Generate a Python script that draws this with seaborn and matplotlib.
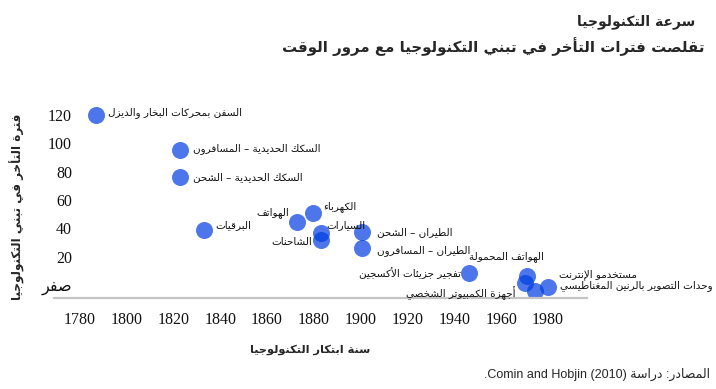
"""Technology adoption lags scatter chart (Arabic labels)."""

import matplotlib

matplotlib.use("Agg")

import matplotlib.pyplot as plt
import pandas as pd
import seaborn as sns

# ---- data ---------------------------------------------------------------
technologies = [
    "السفن بمحركات البخار والديزل",
    "السكك الحديدية – المسافرون",
    "السكك الحديدية – الشحن",
    "البرقيات",
    "الهواتف",
    "الكهرباء",
    "السيارات",
    "الشاحنات",
    "الطيران – الشحن",
    "الطيران – المسافرون",
    "تفجير جزيئات الأكسجين",
    "الهواتف المحمولة",
    "مستخدمو الإنترنت",
    "أجهزة الكمبيوتر الشخصي",
    "وحدات التصوير بالرنين المغناطيسي",
]
invention_year = [1787, 1823, 1823, 1833, 1873, 1879.5, 1883, 1883,
                  1900.5, 1900.5, 1946.5, 1971, 1970, 1974.5, 1980]
adoption_lag = [120, 95, 76, 39, 44.5, 51, 37, 32,
                37.5, 26, 8.5, 6.5, 1.5, -4, -1.5]

x_ticks = [1780, 1800, 1820, 1840, 1860, 1880, 1900, 1920, 1940, 1960, 1980]
y_ticks = [0, 20, 40, 60, 80, 100, 120]
y_tick_labels = ["صفر", "20", "40", "60", "80", "100", "120"]

title = "سرعة التكنولوجيا"
subtitle = "تقلصت فترات التأخر في تبني التكنولوجيا مع مرور الوقت"
x_label = "سنة ابتكار التكنولوجيا"
y_label = "فترة التأخر في تبني التكنولوجيا"
source_ar = "المصادر: دراسة"
source_latin = ".Comin and Hobjin (2010) "

# label placement: (dx, dy) in pixels from the point, horizontal alignment
label_layout = [
    (12, 2, "left"), (13, 2, "left"), (13, 0, "left"), (12, 5, "left"),
    (-8, 9, "right"), (10, 6, "left"), (6, 8, "left"), (-9, -2, "right"),
    (15, 0, "left"), (15, -2, "left"), (-8, 0, "right"), (17, 19, "right"),
    (34, 8, "left"), (-20, -2, "right"), (12, 2, "left"),
]

# ---- minimal Arabic shaping (matplotlib has no complex text layout) ----
_FORM_COUNTS = (
    [("\u0621", 1), ("\u0622", 2), ("\u0623", 2), ("\u0624", 2), ("\u0625", 2),
     ("\u0626", 4), ("\u0627", 2), ("\u0628", 4), ("\u0629", 2), ("\u062A", 4),
     ("\u062B", 4), ("\u062C", 4), ("\u062D", 4), ("\u062E", 4), ("\u062F", 2),
     ("\u0630", 2), ("\u0631", 2), ("\u0632", 2), ("\u0633", 4), ("\u0634", 4),
     ("\u0635", 4), ("\u0636", 4), ("\u0637", 4), ("\u0638", 4), ("\u0639", 4),
     ("\u063A", 4), ("\u0641", 4), ("\u0642", 4), ("\u0643", 4), ("\u0644", 4),
     ("\u0645", 4), ("\u0646", 4), ("\u0647", 4), ("\u0648", 2), ("\u0649", 2),
     ("\u064A", 4)]
)
FORMS = {}
_code = 0xFE80
for _ch, _n in _FORM_COUNTS:
    FORMS[_ch] = (_code, _n)
    _code += _n
LAM_ALEF = {"\u0622": 0xFEF5, "\u0623": 0xFEF7, "\u0625": 0xFEF9, "\u0627": 0xFEFB}


def arabic_visual(text):
    """Shape Arabic letters into presentation forms and reverse for LTR drawing."""
    if not any(ch in FORMS for ch in text):
        return text
    out = []
    i = 0
    while i < len(text):
        ch = text[i]
        prev = text[i - 1] if i > 0 else ""
        joins_prev = prev in FORMS and FORMS[prev][1] == 4
        if ch == "\u0644" and i + 1 < len(text) and text[i + 1] in LAM_ALEF:
            out.append(chr(LAM_ALEF[text[i + 1]] + (1 if joins_prev else 0)))
            i += 2
            continue
        if ch not in FORMS:
            out.append(ch)
            i += 1
            continue
        base, n = FORMS[ch]
        joins_prev = joins_prev and n >= 2
        nxt = text[i + 1] if i + 1 < len(text) else ""
        joins_next = n == 4 and nxt in FORMS and FORMS[nxt][1] >= 2
        if joins_prev and joins_next:
            form = 3
        elif joins_next:
            form = 2
        elif joins_prev:
            form = 1
        else:
            form = 0
        out.append(chr(base + form))
        i += 1
    return "".join(out)[::-1]


# ---- plot ---------------------------------------------------------------
sns.set_theme(style="white")
plt.rcParams["font.family"] = ["DejaVu Sans"]

df = pd.DataFrame({"year": invention_year, "lag": adoption_lag, "tech": technologies})

fig = plt.figure(figsize=(7.16, 3.89), dpi=100)
ax = fig.add_axes([54 / 716, 1 - 298 / 389, (587 - 54) / 716, (298 - 100) / 389])

sns.scatterplot(data=df, x="year", y="lag", ax=ax, s=150, color="#003ce1",
                alpha=0.7, linewidth=0, legend=False)

for (year, lag, name), (dx, dy, ha) in zip(zip(invention_year, adoption_lag, technologies),
                                           label_layout):
    ax.annotate(arabic_visual(name), (year, lag), xytext=(dx, dy),
                textcoords="offset pixels", ha=ha, va="center",
                fontsize=7.5, color="#111111", annotation_clip=False)

ax.set_xlim(1769, 1996.7)
ax.set_ylim(-9.2, 130.6)
ax.set_xticks(x_ticks)
ax.set_xticklabels([str(t) for t in x_ticks])
ax.set_yticks(y_ticks)
ax.set_yticklabels([arabic_visual(t) for t in y_tick_labels])
for lbl in ax.get_xticklabels() + ax.get_yticklabels():
    lbl.set_family(["Liberation Serif", "DejaVu Sans"])
    lbl.set_fontsize(11.5)
    lbl.set_color("#111111")
ax.tick_params(axis="x", length=0, pad=10)
ax.tick_params(axis="y", length=0, pad=-13)

for side in ("top", "right", "left"):
    ax.spines[side].set_visible(False)
ax.spines["bottom"].set_color("#c4c4c4")
ax.spines["bottom"].set_linewidth(1.6)
ax.grid(False)
ax.set_xlabel("")
ax.set_ylabel("")

fig.text(310 / 716, 1 - 350 / 389, arabic_visual(x_label), ha="center", va="center",
         fontsize=8.2, fontweight="bold")
fig.text(17 / 716, 1 - 207 / 389, arabic_visual(y_label), ha="center", va="center",
         rotation=90, fontsize=8.6, fontweight="bold")
fig.text(695 / 716, 1 - 22 / 389, arabic_visual(title), ha="right", va="center",
         fontsize=10, fontweight="bold")
fig.text(705 / 716, 1 - 47 / 389, arabic_visual(subtitle), ha="right", va="center",
         fontsize=10.8, fontweight="bold")
fig.text(710 / 716, 1 - 374 / 389, source_latin + arabic_visual(source_ar), ha="right",
         va="center", fontsize=9, family=["Liberation Sans", "DejaVu Sans"])

fig.savefig("out.png", dpi=100)
plt.close(fig)
